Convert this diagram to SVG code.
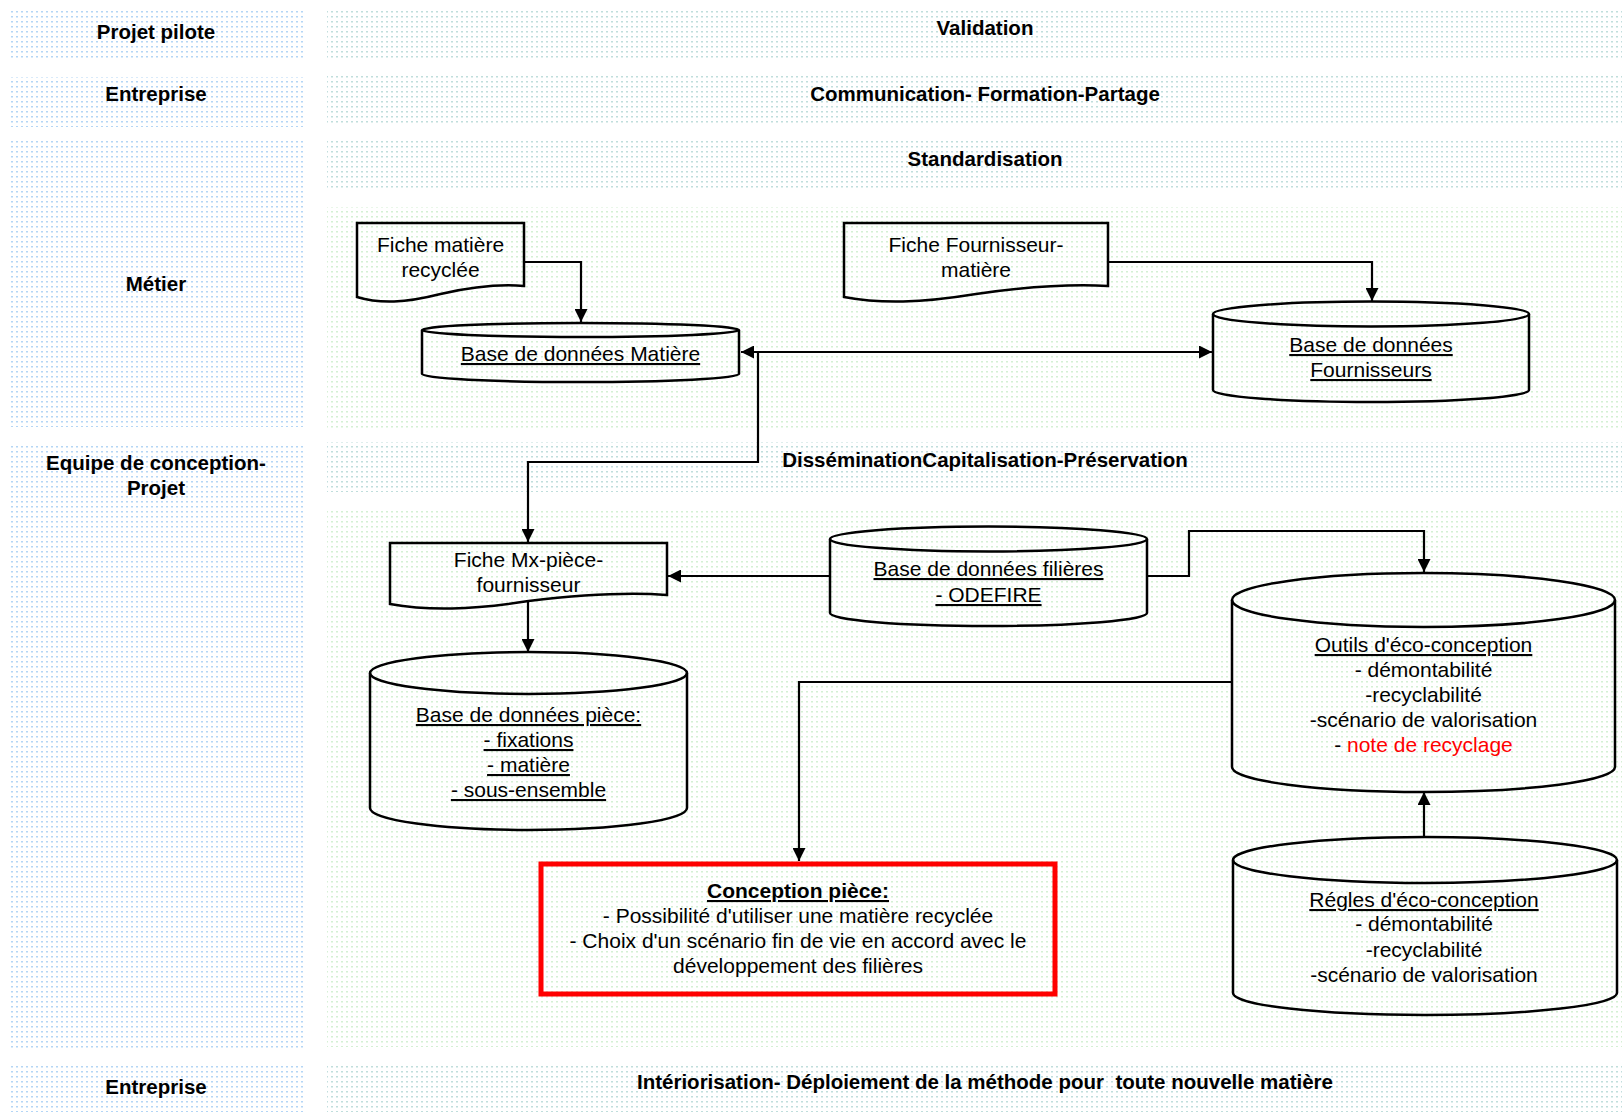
<svg xmlns="http://www.w3.org/2000/svg" width="1622" height="1112" viewBox="0 0 1622 1112">
<style>
  .lbl{font-family:"Liberation Sans",Arial,sans-serif;font-size:20.5px;font-weight:bold;fill:#000;text-anchor:middle;white-space:pre}
  .t{font-family:"Liberation Sans",Arial,sans-serif;font-size:21px;fill:#000;text-anchor:middle}
  .u{text-decoration:underline}
  .shape{fill:none;stroke:#000;stroke-width:2.5}
  .conn{fill:none;stroke:#000;stroke-width:2.2}
</style>
<defs>
  <pattern id="pBlue" width="5" height="5" patternUnits="userSpaceOnUse">
    <rect width="5" height="5" fill="#fff"/>
    <rect x="1" y="1" width="2" height="1.5" fill="#b4d6f5"/>
  </pattern>
  <pattern id="pTeal" width="5" height="5" patternUnits="userSpaceOnUse">
    <rect width="5" height="5" fill="#fff"/>
    <rect x="1" y="1" width="2" height="1.5" fill="#c0dedc"/>
  </pattern>
  <pattern id="pGreen" width="5" height="5" patternUnits="userSpaceOnUse">
    <rect width="5" height="5" fill="#fff"/>
    <rect x="1" y="1" width="2" height="1.5" fill="#d4f0d4"/>
  </pattern>
  <marker id="arr" viewBox="0 0 10 10" refX="10" refY="5" markerUnits="userSpaceOnUse" markerWidth="13" markerHeight="13" orient="auto-start-reverse">
    <path d="M0,0 L10,5 L0,10 Z" fill="#000"/>
  </marker>
</defs>
<rect width="1622" height="1112" fill="#fff"/>

<g id="bands">
  <rect x="10" y="9" width="295" height="49" fill="url(#pBlue)"/>
  <rect x="10" y="77" width="295" height="50" fill="url(#pBlue)"/>
  <rect x="10" y="140" width="295" height="287" fill="url(#pBlue)"/>
  <rect x="10" y="443" width="295" height="605" fill="url(#pBlue)"/>
  <rect x="10" y="1065" width="295" height="47" fill="url(#pBlue)"/>

  <rect x="327" y="9" width="1295" height="49" fill="url(#pTeal)"/>
  <rect x="327" y="75" width="1295" height="49" fill="url(#pTeal)"/>
  <rect x="327" y="140" width="1295" height="50" fill="url(#pTeal)"/>
  <rect x="327" y="207" width="1295" height="221" fill="url(#pGreen)"/>
  <rect x="327" y="442" width="1295" height="50" fill="url(#pTeal)"/>
  <rect x="327" y="510" width="1295" height="537" fill="url(#pGreen)"/>
  <rect x="327" y="1063" width="1295" height="49" fill="url(#pTeal)"/>

  <text class="lbl" x="156" y="39">Projet pilote</text>
  <text class="lbl" x="156" y="101">Entreprise</text>
  <text class="lbl" x="156" y="291">Métier</text>
  <text class="lbl" x="156" y="470">Equipe de conception-</text>
  <text class="lbl" x="156" y="495">Projet</text>
  <text class="lbl" x="156" y="1094">Entreprise</text>

  <text class="lbl" x="985" y="35">Validation</text>
  <text class="lbl" x="985" y="101">Communication- Formation-Partage</text>
  <text class="lbl" x="985" y="166">Standardisation</text>
  <text class="lbl" x="985" y="467">DisséminationCapitalisation-Préservation</text>
  <text class="lbl" x="985" y="1089" xml:space="preserve">Intériorisation- Déploiement de la méthode pour  toute nouvelle matière</text>
</g>

<g id="connectors">
  <path class="conn" d="M524,262 H581 V322" marker-end="url(#arr)"/>
  <path class="conn" d="M1108,262 H1372 V301" marker-end="url(#arr)"/>
  <path class="conn" d="M741,352 H1212" marker-start="url(#arr)" marker-end="url(#arr)"/>
  <path class="conn" d="M758,352 V462 H528 V542" marker-end="url(#arr)"/>
  <path class="conn" d="M528,601 V652" marker-end="url(#arr)"/>
  <path class="conn" d="M830,576 H668" marker-end="url(#arr)"/>
  <path class="conn" d="M1147,576 H1189 V531 H1424 V572" marker-end="url(#arr)"/>
  <path class="conn" d="M1232,682 H799 V861" marker-end="url(#arr)"/>
  <path class="conn" d="M1424,837 V792" marker-end="url(#arr)"/>
</g>

<g id="fiche-matiere">
  <path class="shape" d="M357,223 H524 V286 C500.6,284 475.6,286 440.5,294 C405,303 380,304 357,297 Z"/>
  <text class="t" x="440.5" y="252">Fiche matière</text>
  <text class="t" x="440.5" y="277">recyclée</text>
</g>

<g id="fiche-fournisseur">
  <path class="shape" d="M844,223 H1108 V286 C1071,284 1031.4,286 976,294 C920.6,303 881,304 844,297 Z"/>
  <text class="t" x="976" y="252">Fiche Fournisseur-</text>
  <text class="t" x="976" y="277">matière</text>
</g>

<g id="bd-matiere">
  <path class="shape" d="M422,330 V374 A158.5,8 0 0 0 739,374 V330"/>
  <ellipse class="shape" cx="580.5" cy="330" rx="158.5" ry="7"/>
  <text class="t u" x="580.5" y="361">Base de données Matière</text>
</g>

<g id="bd-fournisseurs">
  <path class="shape" d="M1213,314 V390 A158,12 0 0 0 1529,390 V314"/>
  <ellipse class="shape" cx="1371" cy="314" rx="158" ry="12.5"/>
  <text class="t u" x="1371" y="352">Base de données</text>
  <text class="t u" x="1371" y="377">Fournisseurs</text>
</g>

<g id="fiche-mx">
  <path class="shape" d="M390,543 H667 V595 C628.2,592 586.7,594 528.5,601 C470.3,610 428.8,611 390,604 Z"/>
  <text class="t" x="528.5" y="567">Fiche Mx-pièce-</text>
  <text class="t" x="528.5" y="592">fournisseur</text>
</g>

<g id="bd-filieres">
  <path class="shape" d="M830,539 V613 A158.5,13 0 0 0 1147,613 V539"/>
  <ellipse class="shape" cx="988.5" cy="539" rx="158.5" ry="12.5"/>
  <text class="t u" x="988.5" y="576">Base de données filières</text>
  <text class="t u" x="988.5" y="602">- ODEFIRE</text>
</g>

<g id="outils">
  <path class="shape" d="M1232,600 V767 A191.5,25 0 0 0 1615,767 V600"/>
  <ellipse class="shape" cx="1423.5" cy="600" rx="191.5" ry="27"/>
  <text class="t u" x="1423.5" y="652">Outils d'éco-conception</text>
  <text class="t" x="1423.5" y="677">- démontabilité</text>
  <text class="t" x="1423.5" y="702">-recyclabilité</text>
  <text class="t" x="1423.5" y="727">-scénario de valorisation</text>
  <text class="t" x="1423.5" y="752">- <tspan fill="#ff0000">note de recyclage</tspan></text>
</g>

<g id="bd-piece">
  <path class="shape" d="M370,673 V808 A158.5,22 0 0 0 687,808 V673"/>
  <ellipse class="shape" cx="528.5" cy="673" rx="158.5" ry="21"/>
  <text class="t u" x="528.5" y="722">Base de données pièce:</text>
  <text class="t u" x="528.5" y="747">- fixations</text>
  <text class="t u" x="528.5" y="772">- matière</text>
  <text class="t u" x="528.5" y="797">- sous-ensemble</text>
</g>

<g id="conception-piece">
  <rect x="541" y="864" width="514" height="130" fill="none" stroke="#ff0000" stroke-width="5"/>
  <text class="t u" x="798" y="898" font-weight="bold">Conception pièce:</text>
  <text class="t" x="798" y="923">- Possibilité d'utiliser une matière recyclée</text>
  <text class="t" x="798" y="948">- Choix d'un scénario fin de vie en accord avec le</text>
  <text class="t" x="798" y="973">développement des filières</text>
</g>

<g id="regles">
  <path class="shape" d="M1233,860 V993 A192,22 0 0 0 1617,993 V860"/>
  <ellipse class="shape" cx="1425" cy="860" rx="192" ry="23"/>
  <text class="t u" x="1424" y="907">Régles d'éco-conception</text>
  <text class="t" x="1424" y="931">- démontabilité</text>
  <text class="t" x="1424" y="957">-recyclabilité</text>
  <text class="t" x="1424" y="982">-scénario de valorisation</text>
</g>
</svg>
